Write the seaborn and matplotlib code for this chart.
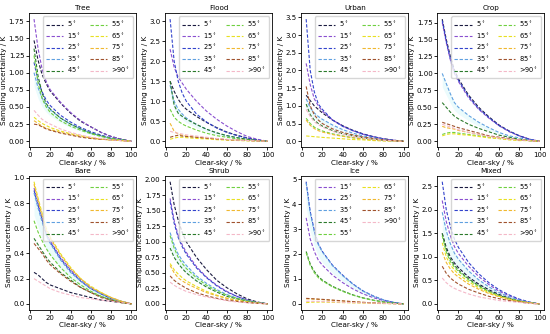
import matplotlib
matplotlib.use("Agg")
import matplotlib.pyplot as plt
import seaborn as sns
import pandas as pd

clear_sky = [4, 8, 12, 16, 20, 30, 40, 50, 60, 70, 80, 90, 100]
angles = ["5", "15", "25", "35", "45", "55", "65", "75", "85", ">90"]
panels = ["Tree", "Flood", "Urban", "Crop", "Bare", "Shrub", "Ice", "Mixed"]

TREE = {
    "5": [1.47, 1.18, 0.97, 0.84, 0.73, 0.56, 0.41, 0.29, 0.21, 0.13, 0.07, 0.03, 0],
    "15": [1.78, 1.35, 1.05, 0.87, 0.75, 0.57, 0.42, 0.30, 0.21, 0.13, 0.07, 0.03, 0],
    "25": [1.15, 0.88, 0.72, 0.60, 0.52, 0.38, 0.28, 0.20, 0.14, 0.09, 0.05, 0.02, 0],
    "35": [1.00, 0.78, 0.63, 0.53, 0.46, 0.34, 0.25, 0.18, 0.12, 0.08, 0.04, 0.02, 0],
    "45": [1.35, 0.95, 0.70, 0.55, 0.47, 0.34, 0.25, 0.18, 0.12, 0.08, 0.04, 0.02, 0],
    "55": [1.25, 0.85, 0.62, 0.50, 0.42, 0.30, 0.22, 0.16, 0.11, 0.07, 0.04, 0.02, 0],
    "65": [0.35, 0.30, 0.26, 0.23, 0.20, 0.15, 0.11, 0.08, 0.05, 0.03, 0.02, 0.01, 0],
    "75": [0.30, 0.26, 0.22, 0.19, 0.17, 0.13, 0.10, 0.07, 0.05, 0.03, 0.02, 0.01, 0],
    "85": [0.25, 0.24, 0.21, 0.18, 0.16, 0.12, 0.09, 0.06, 0.04, 0.03, 0.02, 0.01, 0],
    ">90": [0.45, 0.38, 0.32, 0.28, 0.25, 0.18, 0.13, 0.09, 0.06, 0.04, 0.02, 0.01, 0],
}
FLOOD = {
    "5": [1.50, 1.25, 1.05, 0.90, 0.80, 0.62, 0.47, 0.34, 0.23, 0.15, 0.08, 0.03, 0],
    "15": [2.30, 1.85, 1.60, 1.45, 1.30, 1.00, 0.75, 0.55, 0.38, 0.24, 0.12, 0.05, 0],
    "25": [3.05, 2.00, 1.50, 1.20, 1.00, 0.68, 0.48, 0.33, 0.22, 0.14, 0.08, 0.03, 0],
    "35": [1.40, 1.00, 0.80, 0.68, 0.58, 0.42, 0.30, 0.21, 0.14, 0.09, 0.05, 0.02, 0],
    "45": [1.50, 0.90, 0.70, 0.62, 0.55, 0.42, 0.30, 0.21, 0.14, 0.09, 0.05, 0.02, 0],
    "55": [0.80, 0.60, 0.50, 0.43, 0.38, 0.28, 0.20, 0.14, 0.10, 0.06, 0.03, 0.01, 0],
    "65": [0.05, 0.08, 0.10, 0.10, 0.09, 0.07, 0.06, 0.04, 0.03, 0.02, 0.01, 0.01, 0],
    "75": [0.45, 0.25, 0.18, 0.15, 0.13, 0.10, 0.08, 0.06, 0.04, 0.03, 0.02, 0.01, 0],
    "85": [0.10, 0.13, 0.15, 0.13, 0.12, 0.10, 0.08, 0.06, 0.04, 0.03, 0.02, 0.01, 0],
    ">90": [0.25, 0.22, 0.20, 0.18, 0.16, 0.13, 0.10, 0.07, 0.05, 0.03, 0.02, 0.01, 0],
}
URBAN = {
    "5": [1.30, 1.15, 1.00, 0.90, 0.80, 0.60, 0.44, 0.31, 0.21, 0.13, 0.07, 0.03, 0],
    "15": [2.20, 1.60, 1.20, 1.00, 0.85, 0.60, 0.43, 0.30, 0.20, 0.13, 0.07, 0.03, 0],
    "25": [3.45, 2.00, 1.40, 1.05, 0.90, 0.60, 0.42, 0.30, 0.20, 0.13, 0.07, 0.03, 0],
    "35": [1.20, 0.95, 0.80, 0.70, 0.62, 0.46, 0.33, 0.23, 0.15, 0.10, 0.05, 0.02, 0],
    "45": [1.05, 0.75, 0.60, 0.50, 0.43, 0.30, 0.21, 0.15, 0.10, 0.06, 0.03, 0.01, 0],
    "55": [0.65, 0.50, 0.40, 0.34, 0.29, 0.21, 0.15, 0.10, 0.07, 0.04, 0.02, 0.01, 0],
    "65": [0.15, 0.14, 0.13, 0.12, 0.11, 0.09, 0.07, 0.05, 0.04, 0.02, 0.01, 0.01, 0],
    "75": [0.60, 0.45, 0.36, 0.30, 0.26, 0.19, 0.14, 0.10, 0.07, 0.04, 0.02, 0.01, 0],
    "85": [1.55, 1.00, 0.75, 0.60, 0.50, 0.35, 0.25, 0.18, 0.12, 0.08, 0.04, 0.02, 0],
    ">90": [0.90, 0.70, 0.55, 0.47, 0.40, 0.28, 0.20, 0.14, 0.09, 0.06, 0.03, 0.01, 0],
}
CROP = {
    "5": [1.80, 1.50, 1.25, 1.05, 0.92, 0.68, 0.50, 0.36, 0.24, 0.15, 0.08, 0.03, 0],
    "15": [1.75, 1.45, 1.20, 1.00, 0.88, 0.64, 0.47, 0.34, 0.23, 0.14, 0.08, 0.03, 0],
    "25": [1.78, 1.47, 1.22, 1.02, 0.90, 0.66, 0.48, 0.35, 0.23, 0.15, 0.08, 0.03, 0],
    "35": [1.00, 0.85, 0.70, 0.57, 0.50, 0.38, 0.28, 0.20, 0.13, 0.08, 0.05, 0.02, 0],
    "45": [0.57, 0.50, 0.43, 0.37, 0.33, 0.25, 0.19, 0.14, 0.09, 0.06, 0.03, 0.01, 0],
    "55": [0.10, 0.12, 0.13, 0.13, 0.12, 0.10, 0.08, 0.06, 0.04, 0.03, 0.02, 0.01, 0],
    "65": [0.08, 0.10, 0.11, 0.11, 0.10, 0.09, 0.07, 0.05, 0.04, 0.02, 0.01, 0.01, 0],
    "75": [0.22, 0.20, 0.19, 0.18, 0.16, 0.13, 0.10, 0.07, 0.05, 0.03, 0.02, 0.01, 0],
    "85": [0.28, 0.26, 0.24, 0.22, 0.20, 0.16, 0.12, 0.08, 0.06, 0.04, 0.02, 0.01, 0],
    ">90": [0.25, 0.23, 0.21, 0.19, 0.17, 0.13, 0.10, 0.07, 0.05, 0.03, 0.02, 0.01, 0],
}
BARE = {
    "5": [0.25, 0.23, 0.20, 0.17, 0.15, 0.12, 0.09, 0.07, 0.05, 0.03, 0.02, 0.01, 0],
    "15": [0.92, 0.80, 0.68, 0.56, 0.50, 0.37, 0.27, 0.19, 0.13, 0.08, 0.05, 0.02, 0],
    "25": [0.90, 0.78, 0.67, 0.55, 0.49, 0.36, 0.26, 0.18, 0.12, 0.08, 0.04, 0.02, 0],
    "35": [0.88, 0.76, 0.65, 0.54, 0.48, 0.35, 0.25, 0.18, 0.12, 0.08, 0.04, 0.02, 0],
    "45": [0.52, 0.47, 0.42, 0.37, 0.33, 0.25, 0.19, 0.13, 0.09, 0.06, 0.03, 0.01, 0],
    "55": [0.66, 0.57, 0.50, 0.44, 0.39, 0.29, 0.21, 0.15, 0.10, 0.06, 0.03, 0.01, 0],
    "65": [0.97, 0.84, 0.72, 0.60, 0.53, 0.40, 0.29, 0.20, 0.14, 0.09, 0.05, 0.02, 0],
    "75": [0.95, 0.82, 0.70, 0.58, 0.52, 0.39, 0.28, 0.20, 0.13, 0.09, 0.05, 0.02, 0],
    "85": [0.48, 0.44, 0.40, 0.35, 0.31, 0.24, 0.18, 0.13, 0.09, 0.05, 0.03, 0.01, 0],
    ">90": [0.20, 0.18, 0.16, 0.14, 0.12, 0.09, 0.07, 0.05, 0.04, 0.03, 0.02, 0.01, 0],
}
SHRUB = {
    "5": [1.97, 1.60, 1.35, 1.15, 1.00, 0.75, 0.55, 0.38, 0.26, 0.16, 0.08, 0.03, 0],
    "15": [1.70, 1.35, 1.10, 0.95, 0.83, 0.60, 0.43, 0.30, 0.20, 0.12, 0.06, 0.02, 0],
    "25": [1.65, 1.30, 1.07, 0.92, 0.80, 0.58, 0.42, 0.29, 0.19, 0.12, 0.06, 0.02, 0],
    "35": [1.15, 0.95, 0.80, 0.70, 0.62, 0.45, 0.33, 0.23, 0.15, 0.09, 0.05, 0.02, 0],
    "45": [0.90, 0.75, 0.65, 0.57, 0.50, 0.37, 0.27, 0.19, 0.12, 0.08, 0.04, 0.02, 0],
    "55": [1.10, 0.90, 0.75, 0.65, 0.57, 0.42, 0.30, 0.21, 0.14, 0.09, 0.05, 0.02, 0],
    "65": [0.65, 0.55, 0.48, 0.42, 0.37, 0.28, 0.20, 0.14, 0.09, 0.06, 0.03, 0.01, 0],
    "75": [0.62, 0.50, 0.42, 0.37, 0.33, 0.25, 0.18, 0.13, 0.09, 0.05, 0.03, 0.01, 0],
    "85": [0.45, 0.38, 0.33, 0.29, 0.25, 0.18, 0.13, 0.09, 0.06, 0.04, 0.02, 0.01, 0],
    ">90": [0.35, 0.30, 0.26, 0.23, 0.20, 0.15, 0.11, 0.08, 0.05, 0.03, 0.02, 0.01, 0],
}
ICE = {
    "15": [3.45, 2.60, 2.10, 1.75, 1.55, 1.15, 0.85, 0.60, 0.40, 0.25, 0.13, 0.05, 0],
    "25": [4.90, 3.70, 2.95, 2.40, 2.10, 1.55, 1.15, 0.80, 0.52, 0.32, 0.16, 0.06, 0],
    "35": [4.85, 3.65, 2.90, 2.38, 2.08, 1.53, 1.13, 0.79, 0.51, 0.31, 0.16, 0.06, 0],
    "45": [2.10, 1.60, 1.30, 1.10, 0.95, 0.70, 0.52, 0.36, 0.24, 0.15, 0.08, 0.03, 0],
    "55": [2.05, 1.55, 1.25, 1.05, 0.92, 0.68, 0.50, 0.35, 0.23, 0.14, 0.07, 0.03, 0],
    "65": [0.05, 0.06, 0.07, 0.07, 0.07, 0.06, 0.05, 0.04, 0.03, 0.02, 0.01, 0.01, 0],
    "75": [0.20, 0.20, 0.19, 0.18, 0.17, 0.14, 0.11, 0.08, 0.06, 0.04, 0.02, 0.01, 0],
    "85": [0.22, 0.21, 0.20, 0.19, 0.18, 0.15, 0.12, 0.09, 0.06, 0.04, 0.02, 0.01, 0],
    ">90": [0.10, 0.10, 0.10, 0.10, 0.09, 0.08, 0.06, 0.05, 0.04, 0.03, 0.02, 0.01, 0],
}
MIXED = {
    "5": [1.50, 1.20, 1.00, 0.87, 0.77, 0.57, 0.42, 0.30, 0.20, 0.12, 0.06, 0.02, 0],
    "15": [2.20, 1.75, 1.45, 1.22, 1.07, 0.80, 0.58, 0.41, 0.27, 0.17, 0.09, 0.03, 0],
    "25": [2.60, 2.00, 1.65, 1.38, 1.20, 0.88, 0.64, 0.45, 0.30, 0.19, 0.10, 0.04, 0],
    "35": [1.95, 1.55, 1.28, 1.08, 0.95, 0.70, 0.51, 0.36, 0.24, 0.15, 0.08, 0.03, 0],
    "45": [1.50, 1.15, 0.95, 0.82, 0.72, 0.53, 0.39, 0.27, 0.18, 0.11, 0.06, 0.02, 0],
    "55": [1.45, 1.10, 0.90, 0.78, 0.69, 0.51, 0.37, 0.26, 0.17, 0.11, 0.06, 0.02, 0],
    "65": [1.30, 1.00, 0.83, 0.72, 0.63, 0.47, 0.34, 0.24, 0.16, 0.10, 0.05, 0.02, 0],
    "75": [1.10, 0.88, 0.74, 0.64, 0.57, 0.42, 0.31, 0.22, 0.15, 0.09, 0.05, 0.02, 0],
    "85": [0.80, 0.65, 0.55, 0.48, 0.42, 0.31, 0.23, 0.16, 0.11, 0.07, 0.04, 0.01, 0],
    ">90": [0.55, 0.45, 0.38, 0.33, 0.29, 0.21, 0.15, 0.11, 0.07, 0.05, 0.03, 0.01, 0],
}

panel_data = [TREE, FLOOD, URBAN, CROP, BARE, SHRUB, ICE, MIXED]

colors = {
    "5": "#1a1a40",
    "15": "#8a4fd0",
    "25": "#3344cc",
    "35": "#5fa0e0",
    "45": "#2b7a2b",
    "55": "#6fd040",
    "65": "#e8e020",
    "75": "#f0b830",
    "85": "#a0522d",
    ">90": "#f4b8c8",
}

fig, axes = plt.subplots(2, 4, figsize=(5.5, 3.34), dpi=100)
plt.subplots_adjust(left=0.053, right=0.99, top=0.961, bottom=0.072,
                    wspace=0.27, hspace=0.21)

dash = (0, (3, 1.6))
for ax, name, data in zip(axes.flat, panels, panel_data):
    rows = []
    for ang in angles:
        if ang not in data:
            continue
        for xv, yv in zip(clear_sky, data[ang]):
            rows.append({"x": xv, "y": yv, "angle": ang})
    df = pd.DataFrame(rows)
    present = [a for a in angles if a in data]
    # faint spread band around the 35 deg curve
    if "35" in data:
        y35 = data["35"]
        ax.fill_between(clear_sky, [v * 0.8 for v in y35], y35,
                        color="#7fe8f0", alpha=0.15, lw=0)
    sns.lineplot(data=df, x="x", y="y", hue="angle", hue_order=present,
                 palette={a: colors[a] for a in present}, ax=ax,
                 linewidth=0.8, legend=False)
    for line in ax.get_lines():
        line.set_linestyle(dash)
    handles = []
    for ang in present:
        h, = ax.plot([], [], color=colors[ang], lw=0.8, ls=dash)
        handles.append(h)
    labels = [("%s$^\\circ$" % a) for a in present]
    ax.legend(handles, labels, ncol=2, loc="upper right", fontsize=4.8,
              handlelength=2.6, handletextpad=0.6, columnspacing=1.3,
              labelspacing=0.3, borderpad=0.45, frameon=True)
    ax.set_title(name, fontsize=5.2, pad=2)
    ax.set_xlabel("Clear-sky / %", fontsize=5.2, labelpad=1)
    ax.set_ylabel("Sampling uncertainty / K", fontsize=5.2, labelpad=1)
    ax.set_xticks([0, 20, 40, 60, 80, 100])
    ax.tick_params(labelsize=5, length=2, pad=1.5, width=0.6)
    for s in ax.spines.values():
        s.set_linewidth(0.6)

fig.savefig("out.png", dpi=100)
